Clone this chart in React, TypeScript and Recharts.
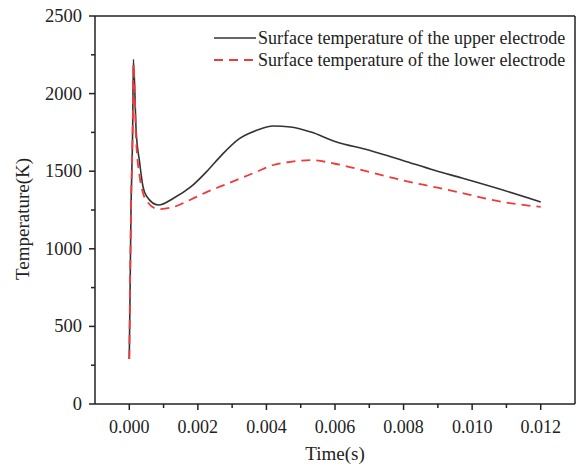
import React from 'react';
import { LineChart, Line, XAxis, YAxis, Legend, ReferenceLine } from 'recharts';

// time in seconds, temperatures in K
const time = [0, 0.00005, 0.0001, 0.00012, 0.0002, 0.0003, 0.0004, 0.0005, 0.00085, 0.0013, 0.0018, 0.0023, 0.0027, 0.0032, 0.0037, 0.0042, 0.0047, 0.0053, 0.006, 0.007, 0.008, 0.0089, 0.0097, 0.0108, 0.012];
const upperTemp = [290, 1250, 1800, 2220, 1760, 1560, 1400, 1340, 1282, 1327, 1400, 1508, 1605, 1708, 1762, 1791, 1785, 1752, 1692, 1635, 1568, 1506, 1456, 1385, 1302];
const lowerTemp = [290, 1250, 1800, 2190, 1700, 1470, 1360, 1310, 1256, 1270, 1318, 1370, 1405, 1450, 1495, 1540, 1560, 1572, 1548, 1495, 1440, 1398, 1360, 1305, 1270];

const xMajorTicks = [0, 0.002, 0.004, 0.006, 0.008, 0.01, 0.012];
const xMinorTicks = [0.001, 0.003, 0.005, 0.007, 0.009, 0.011];
const yMajorTicks = [0, 500, 1000, 1500, 2000, 2500];
const yMinorTicks = [250, 750, 1250, 1750, 2250];

const seriesNames = ['Surface temperature of the upper electrode', 'Surface temperature of the lower electrode'];

const data = time.map((t, i) => ({ t, upper: upperTemp[i], lower: lowerTemp[i] }));

const FONT = '"Liberation Serif", "Times New Roman", serif';
const INK = '#222';
const RED = '#f03a3a';

const XTick = ({ x, y, payload }: any) => {
  const major = xMajorTicks.includes(payload.value);
  return (
    <g>
      <line x1={x} x2={x} y1={y} y2={y + (major ? 6 : 4)} stroke={INK} strokeWidth={1.5} />
      {major && (
        <text x={x} y={y + 29} textAnchor="middle" fontFamily={FONT} fontSize={18} fill={INK}>
          {payload.value.toFixed(3)}
        </text>
      )}
    </g>
  );
};

const YTick = ({ x, y, payload }: any) => {
  const major = yMajorTicks.includes(payload.value);
  return (
    <g>
      <line x1={x - (major ? 6 : 4)} x2={x} y1={y} y2={y} stroke={INK} strokeWidth={1.5} />
      {major && (
        <text x={x - 13} y={y + 6} textAnchor="end" fontFamily={FONT} fontSize={18.5} fill={INK}>
          {payload.value}
        </text>
      )}
    </g>
  );
};

const XTitle = ({ viewBox }: any) => (
  <text x={viewBox.x + viewBox.width / 2} y={460} textAnchor="middle" fontFamily={FONT} fontSize={19} fill={INK}>
    Time(s)
  </text>
);

const YTitle = () => (
  <text x={22} y={219} transform="rotate(-90 22 219)" textAnchor="middle" dominantBaseline="central" fontFamily={FONT} fontSize={19} fill={INK}>
    Temperature(K)
  </text>
);

const LegendBox = () => (
  <div style={{ fontFamily: FONT, fontSize: 18, color: INK, lineHeight: '22px' }}>
    {seriesNames.map((name, i) => (
      <div key={name} style={{ display: 'flex', alignItems: 'center', height: 22, whiteSpace: 'nowrap' }}>
        <svg width={44} height={10} style={{ marginRight: 1 }}>
          <line x1={1} x2={43} y1={5} y2={5} stroke={i === 0 ? '#333' : RED} strokeWidth={i === 0 ? 1.6 : 1.8} strokeDasharray={i === 0 ? undefined : '9 6'} />
        </svg>
        <span>{name}</span>
      </div>
    ))}
  </div>
);

export default function App() {
  return (
    <div style={{ width: 578, height: 472, background: '#fff' }}>
      <style>{'body{margin:0}'}</style>
      <LineChart width={578} height={472} data={data} margin={{ top: 16, right: 3, left: 0, bottom: 0 }}>
        <XAxis
          dataKey="t"
          type="number"
          domain={[-0.001, 0.013]}
          ticks={[...xMajorTicks, ...xMinorTicks].sort((a, b) => a - b)}
          interval={0}
          tickSize={0}
          tickMargin={0}
          tickLine={false}
          tick={<XTick />}
          height={68}
          axisLine={{ stroke: INK, strokeWidth: 1.5 }}
          allowDataOverflow
          label={{ value: 'Time(s)', content: XTitle }}
        />
        <YAxis
          type="number"
          domain={[0, 2500]}
          ticks={[...yMajorTicks, ...yMinorTicks].sort((a, b) => a - b)}
          interval={0}
          tickSize={0}
          tickMargin={0}
          tickLine={false}
          tick={<YTick />}
          width={95}
          axisLine={{ stroke: INK, strokeWidth: 1.5 }}
          allowDataOverflow
          label={{ value: 'Temperature(K)', content: YTitle }}
        />
        <ReferenceLine y={2500} stroke={INK} strokeWidth={1.5} />
        <ReferenceLine x={0.013} stroke={INK} strokeWidth={1.5} />
        <Legend
          layout="vertical"
          align="center"
          verticalAlign="middle"
          content={<LegendBox />}
          wrapperStyle={{ top: 27, left: 213, width: 'auto', height: 'auto' }}
        />
        <Line
          type="monotone"
          dataKey="upper"
          stroke="#333"
          strokeWidth={1.6}
          dot={false}
          isAnimationActive={false}
        />
        <Line
          type="monotone"
          dataKey="lower"
          stroke={RED}
          strokeWidth={1.8}
          strokeDasharray="9 6"
          dot={false}
          isAnimationActive={false}
        />
      </LineChart>
    </div>
  );
}
